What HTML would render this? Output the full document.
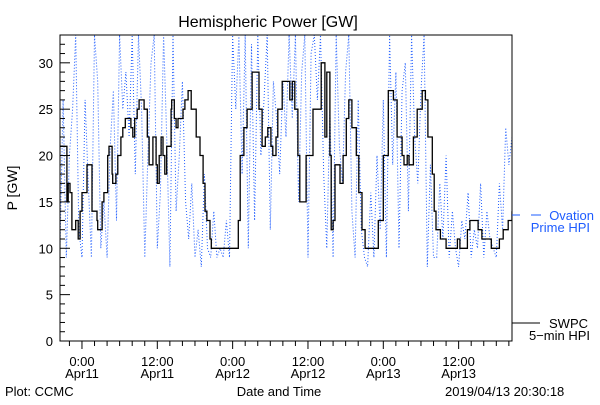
<!DOCTYPE html>
<html><head><meta charset="utf-8"><style>
body{margin:0;background:#fff;}
svg text{font-family:"Liberation Sans",sans-serif;}
</style></head><body>
<svg width="600" height="400" viewBox="0 0 600 400" xmlns="http://www.w3.org/2000/svg">
<rect width="600" height="400" fill="#fff"/>
<text x="268" y="27" font-size="16" text-anchor="middle">Hemispheric Power [GW]</text>
<g id="plot"></g>
<text transform="translate(17,188) rotate(-90)" font-size="14" text-anchor="middle">P [GW]</text>
<text x="5" y="396" font-size="13">Plot: CCMC</text>
<text x="279" y="396" font-size="13" text-anchor="middle">Date and Time</text>
<text x="445" y="396" font-size="13">2019/04/13 20:30:18</text>
<g>
<line x1="512" y1="215" x2="520" y2="215" stroke="#1e5cff"/>
<line x1="531" y1="215" x2="541" y2="215" stroke="#1e5cff"/>
<text x="594" y="220" font-size="13" fill="#1e5cff" text-anchor="end">Ovation</text>
<text x="590" y="232" font-size="13" fill="#1e5cff" text-anchor="end">Prime HPI</text>
</g>
<g>
<line x1="512" y1="323" x2="540" y2="323" stroke="#000"/>
<text x="588" y="328" font-size="13" text-anchor="end">SWPC</text>
<text x="590" y="340" font-size="13" text-anchor="end">5−min HPI</text>
</g>
</svg>
<script>
const yTicks=[0,5,10,15,20,25,30];
const xTickHours=[0,12,24,36,48,60];
const xTickTimes=["0:00","12:00","0:00","12:00","0:00","12:00"];
const xTickDates=["Apr11","Apr11","Apr12","Apr12","Apr13","Apr13"];
const swpcHours=[-3.5,-3.0,-2.4,-2.2,-1.9,-1.6,-1.1,-1.0,-0.6,-0.3,0,0.5,0.8,1.6,2.4,2.5,3.2,3.5,4.1,4.3,4.8,4.9,5.4,5.7,6.2,6.5,6.9,7.5,7.8,8.1,8.4,8.8,9.1,9.7,9.9,10.4,10.7,11.0,11.3,11.6,11.8,12.0,12.3,12.6,12.9,13.2,13.5,14.2,14.3,14.7,15.0,15.3,15.6,16.1,16.4,16.9,17.4,18.2,18.8,19.3,19.6,19.9,20.4,20.6,24.1,24.9,25.2,25.8,26.3,27.1,27.6,28.2,28.7,29.0,29.2,29.3,29.6,30.1,30.4,30.6,30.9,31.2,31.9,32.5,33.1,33.5,33.9,34.4,34.7,35.7,36.8,38.1,38.6,38.7,39.0,39.5,39.7,40.0,40.3,40.5,41.1,41.6,42.1,42.5,43.0,43.7,44.1,44.6,45.1,46.7,47.2,48.0,48.8,49.1,49.6,50.2,51.0,51.3,51.8,52.1,52.8,53.4,54.2,54.7,55.1,55.8,56.1,56.4,57.1,58.0,59.8,60.2,61.4,61.8,62.9,63.1,63.7,65.2,66.0,66.5,67.1,67.4,67.9,68.5];
const swpcValues=[21,21,15,17,16,12,12,13,11,14,16,16,19,14,13,12,15,16,20,21,18,17,18,20,22,23,24,24,23,22,24,25,26,26,25,22,19,19,22,22,19,17,20,22,20,18,21,25,26,24,23,24,24,25,26,27,25,22,20,17,14,13,11,10,10,13,20,23,25,29,29,25,21,21,22,22,23,21,20,20,22,25,28,28,26,28,25,20,15,20,25,30,30,22,29,20,12,13,19,19,17,20,24,26,23,20,16,12,10,10,13,20,27,27,26,22,20,19,20,19,22,25,27,26,22,18,14,12,11,10,11,10,12,13,13,12,11,10,10,11,12,12,13,14];
const ovationStart=-3.5;
const ovationValues=[10,26,9,20,25,33,12,9,26,17,9,33,28,10,15,9,21,27,13,33,25,29,22,33,18,33,25,9,20,30,33,10,16,33,22,8,33,14,20,28,15,11,17,9,12,8,18,10,9,14,9,10,9,13,9,33,25,33,18,33,10,32,13,33,20,26,33,12,28,24,18,28,22,33,24,33,15,29,33,9,31,33,26,33,18,10,25,9,33,21,17,29,33,14,9,26,12,9,8,16,9,20,12,26,9,33,19,29,10,27,30,14,33,22,17,27,33,8,19,9,9,17,11,20,9,14,10,8,13,11,16,9,12,10,17,9,14,11,10,9,17,12,23,19,22];
const L=60,R=512,T=35,B=341,H0=-3.5,H1=68.5,YMAX=33;
const xs=h=>L+(h-H0)/(H1-H0)*(R-L);
const ys=v=>B-v/YMAX*(B-T);
const NS="http://www.w3.org/2000/svg";
const g=document.getElementById('plot');
function mk(tag,attrs){const e=document.createElementNS(NS,tag);for(const k in attrs)e.setAttribute(k,attrs[k]);g.appendChild(e);return e;}
const defs=mk('defs',{});
const cp=document.createElementNS(NS,'clipPath');cp.setAttribute('id','pc');
const cr=document.createElementNS(NS,'rect');cr.setAttribute('x',L);cr.setAttribute('y',T);cr.setAttribute('width',R-L);cr.setAttribute('height',B-T);
cp.appendChild(cr);defs.appendChild(cp);
let pts=ovationValues.map((v,i)=>xs(ovationStart+i*0.5).toFixed(1)+','+ys(Math.min(v,YMAX)).toFixed(1)).join(' ');
const ov=mk('polyline',{points:pts,fill:'none',stroke:'#1e5cff','stroke-width':1,'stroke-dasharray':'1 2','clip-path':'url(#pc)'});


// stepped SWPC line
let sp=[];
swpcValues.forEach((v,i)=>{const x=xs(swpcHours[i]).toFixed(1);const y=ys(v).toFixed(1);
if(i>0){sp.push(x+','+ys(swpcValues[i-1]).toFixed(1));}
sp.push(x+','+y);});
const sw=mk('polyline',{points:sp.join(' '),fill:'none',stroke:'#000','stroke-width':1.3,'clip-path':'url(#pc)'});


const fr=mk('rect',{x:L,y:T,width:R-L,height:B-T,fill:'none',stroke:'#000','stroke-width':1});


for(let v=0;v<=YMAX;v++){const y=ys(v);mk('line',{x1:L,y1:y,x2:L+(v%5==0?10:5),y2:y,stroke:'#000'});}
yTicks.forEach(v=>{const t=mk('text',{x:L-7,y:ys(v)+5,'font-size':13,'text-anchor':'end'});t.textContent=v;

});
for(let h=-2;h<=H1;h+=2){const x=xs(h);mk('line',{x1:x,y1:B,x2:x,y2:B+(h%12==0?8:5),stroke:'#000'});}
xTickHours.forEach((h,i)=>{const x=xs(h);
const a=mk('text',{x:x,y:B+25,'font-size':13,'text-anchor':'middle'});a.textContent=xTickTimes[i];


const b=mk('text',{x:x,y:B+37,'font-size':13,'text-anchor':'middle'});b.textContent=xTickDates[i];

});
</script>
</body></html>
